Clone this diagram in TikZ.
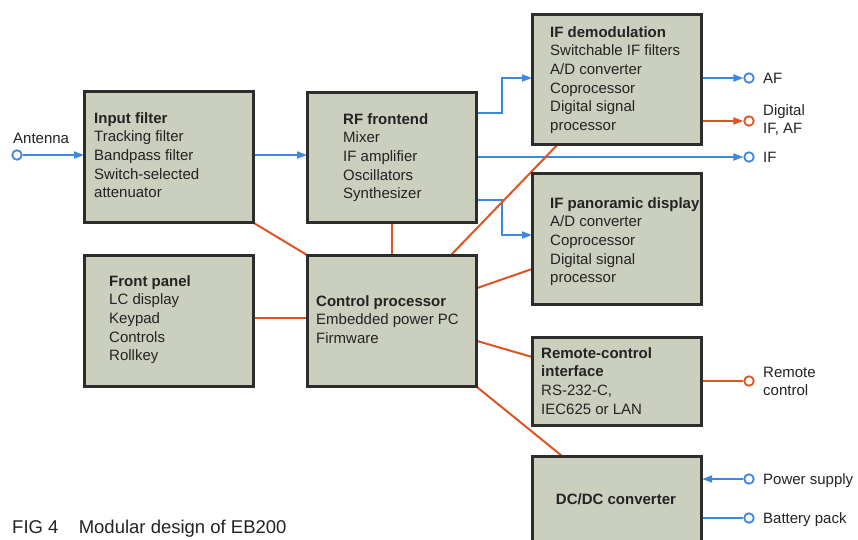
\documentclass[tikz,border=0pt]{standalone}
\usepackage{fontspec}
\setmainfont{Liberation Sans}
\usetikzlibrary{arrows.meta}
\definecolor{boxfill}{RGB}{203,207,189}
\definecolor{sigblue}{RGB}{62,134,222}
\definecolor{ctlred}{RGB}{222,84,36}
\definecolor{boxline}{RGB}{45,45,45}
\definecolor{ink}{RGB}{35,35,35}
\newcommand{\mlines}[1]{\begin{tabular}[t]{@{}l@{}}#1\end{tabular}}
\begin{document}
\begin{tikzpicture}[x=1pt,y=-1pt,
  box/.style={draw=boxline, line width=2.2pt, fill=boxfill, rectangle, inner sep=0pt, anchor=north west, minimum width=168pt},
  txt/.style={anchor=base west, inner sep=0pt, font=\fontsize{15}{18.7}\selectfont, text=ink},
  bl/.style={draw=sigblue, line width=2pt},
  rd/.style={draw=ctlred, line width=2pt},
  tip/.style={-{Triangle[length=10pt,width=7pt]}},
  port/.style={circle, line width=1.8pt, fill=white, minimum size=9.5pt, inner sep=0pt},
]
\useasboundingbox (0,0) rectangle (858,539);
\clip (0,0) rectangle (858,539);
\fill[white] (0,0) rectangle (858,539);

% boxes
\node[box, minimum height=130pt] (inp) at (84,91) {};
\node[box, minimum height=129pt] (rf) at (307,92) {};
\node[box, minimum height=129pt] (ifd) at (532,14) {};
\node[box, minimum height=130pt] (pan) at (532,173) {};
\node[box, minimum height=130pt] (fp) at (84,255) {};
\node[box, minimum height=130pt] (ctl) at (307,255) {};
\node[box, minimum height=87pt] (rc) at (532,337) {};
\node[box, minimum height=120pt] (dc) at (532,456) {};

% box texts
\node[txt] (tinp) at (94,123) {\mlines{\textbf{Input filter}\\Tracking filter\\Bandpass filter\\Switch-selected\\attenuator}};
\node[txt] (trf) at (343,124) {\mlines{\textbf{RF frontend}\\Mixer\\IF amplifier\\Oscillators\\Synthesizer}};
\node[txt] (tifd) at (550,37) {\mlines{\textbf{IF demodulation}\\Switchable IF filters\\A/D converter\\Coprocessor\\Digital signal\\processor}};
\node[txt] (tpan) at (550,208) {\mlines{\textbf{IF panoramic display}\\A/D converter\\Coprocessor\\Digital signal\\processor}};
\node[txt] (tfp) at (109,286) {\mlines{\textbf{Front panel}\\LC display\\Keypad\\Controls\\Rollkey}};
\node[txt] (tctl) at (316,306) {\mlines{\textbf{Control processor}\\Embedded power PC\\Firmware}};
\node[txt] (trc) at (541,358) {\mlines{\textbf{Remote-control}\\\textbf{interface}\\RS-232-C,\\IEC625 or LAN}};
\node[txt, anchor=base] (tdc) at (616,504) {\textbf{DC/DC converter}};

% ports
\node[port, draw=sigblue] (pant) at (17,155) {};
\node[port, draw=sigblue] (paf) at (749,78) {};
\node[port, draw=ctlred] (pdig) at (749,121) {};
\node[port, draw=sigblue] (pif) at (749,157) {};
\node[port, draw=ctlred] (prc) at (749,381) {};
\node[port, draw=sigblue] (ppw) at (749,479) {};
\node[port, draw=sigblue] (pbat) at (749,518) {};

% port labels
\node[txt] (lant) at (13,143) {Antenna};
\node[txt] (laf) at (763,83) {AF};
\node[txt] (ldig) at (763,115) {\mlines{Digital\\IF, AF}};
\node[txt] (lif) at (763,162) {IF};
\node[txt] (lrc) at (763,377) {\mlines{Remote\\control}};
\node[txt] (lpw) at (763,484) {Power supply};
\node[txt] (lbat) at (763,523) {Battery pack};

% caption
\node[txt, font=\fontsize{18.5}{22}\selectfont] (cap) at (12,533) {FIG 4\hspace{1.1em}Modular design of EB200};

% signal connectors
\draw[bl,tip] (pant) -- (inp.west |- pant);
\draw[bl,tip] (inp.east |- 0,155) -- (rf.west |- 0,155);
\draw[bl,tip] (rf.east |- 0,113) -- (502,113) -- (502,78) -- (ifd.west |- 0,78);
\draw[bl,tip] (rf.east |- pif) -- (pif);
\draw[bl,tip] (rf.east |- 0,200) -- (502,200) -- (502,235) -- (pan.west |- 0,235);
\draw[bl,tip] (ifd.east |- paf) -- (paf);
\draw[rd,tip] (ifd.east |- pdig) -- (pdig);
\draw[rd] (rc.east |- prc) -- (prc);
\draw[bl,tip] (ppw) -- (dc.east |- ppw);
\draw[bl] (dc.east |- pbat) -- (pbat);

% control connectors
\draw[rd] (inp.south east) -- (ctl.north west);
\draw[rd] (rf.south) -- (ctl.north);
\draw[rd] (ifd.south west -| 557,0) -- (ctl.north east -| 451,0);
\draw[rd] (fp.east |- 0,318) -- (ctl.west |- 0,318);
\draw[rd] (ctl.east |- 0,288) -- (pan.west |- 0,269);
\draw[rd] (ctl.east |- 0,341) -- (rc.west |- 0,357);
\draw[rd] (ctl.south east) -- (dc.north west -| 562,0);

% redraw box outlines on top of connector ends
\foreach \b in {inp,rf,ifd,pan,fp,ctl,rc,dc}{\draw[boxline, line width=2.2pt] (\b.north west) rectangle (\b.south east);}
\end{tikzpicture}
\end{document}
